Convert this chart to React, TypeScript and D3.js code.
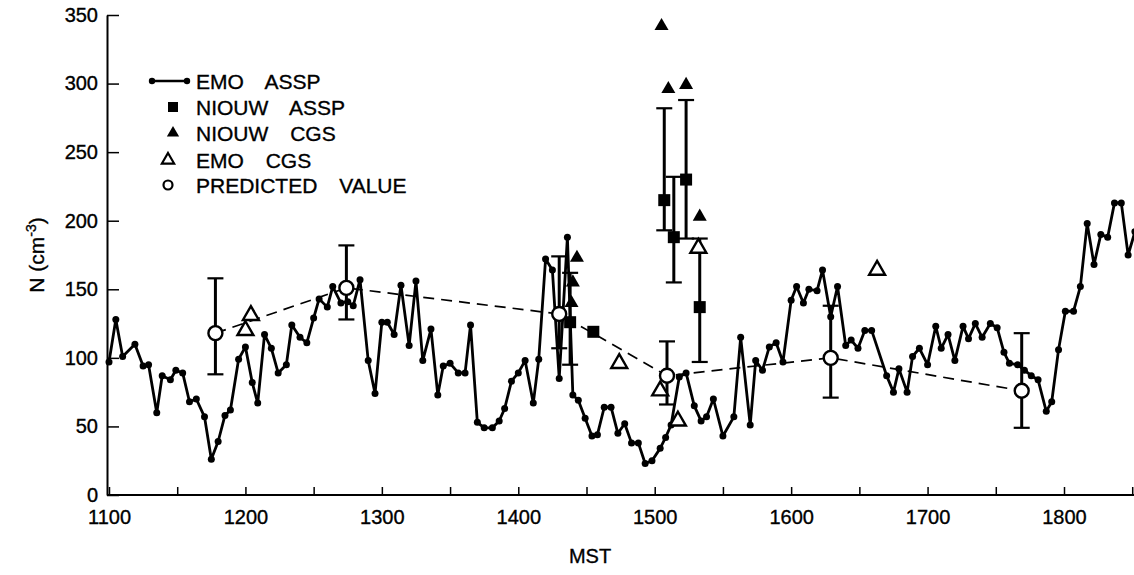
import React, { useEffect, useRef } from "react";
import * as d3 from "d3";

// EMO ASSP series (time MST, N cm^-3)
const emoX = [1100,1105,1110,1119,1125,1129,1135,1139,1145,1149,1154,1159,1164,1170,1175,1180,1185,1189,1195,1200,1205,1209,1214,1219,1224,1230,1234,1240,1245,1250,1254,1260,1264,1270,1275,1279,1284,1290,1295,1300,1304,1309,1314,1320,1325,1330,1336,1341,1345,1350,1356,1361,1365,1370,1375,1381,1386,1390,1395,1400,1405,1411,1415,1420,1425,1430,1436,1440,1444,1449,1454,1458,1463,1468,1473,1478,1483,1488,1493,1498,1504,1508,1512,1518,1523,1529,1534,1538,1543,1550,1558,1563,1570,1574,1579,1584,1589,1594,1600,1604,1609,1613,1619,1623,1629,1634,1640,1644,1649,1654,1659,1670,1675,1679,1685,1689,1694,1700,1706,1710,1715,1720,1726,1730,1735,1740,1746,1751,1756,1760,1766,1771,1776,1781,1787,1791,1796,1801,1807,1812,1817,1822,1827,1832,1837,1842,1847,1852];
const emoY = [97,128,101,110,94,95,60,87,84,91,89,68,70,57,26,39,58,62,99,108,82,67,117,107,89,95,124,115,111,129,143,137,152,140,141,138,157,98,74,126,126,117,153,109,156,98,121,73,94,96,89,89,124,53,49,49,54,63,83,89,98,67,99,172,164,85,188,73,69,56,43,44,64,64,45,52,38,38,23,25,34,42,51,86,89,65,54,57,70,43,57,115,51,98,91,108,111,97,142,152,140,150,149,164,130,152,109,113,107,120,120,87,75,92,75,101,107,95,123,107,117,98,123,114,125,115,125,122,104,96,95,91,87,84,61,68,106,134,134,152,198,168,190,188,213,213,175,192];

// NIOUW ASSP (filled squares) with error bars
const nAsspX = [1438, 1455, 1507, 1514, 1523, 1533];
const nAsspY = [126, 119, 215, 188, 230, 137];
const nAsspLo = [95, null, 193, 155, 187, 97];
const nAsspHi = [162, null, 282, 232, 288, 187];

// NIOUW CGS (filled triangles)
const nCgsX = [1439, 1440, 1443, 1505, 1510, 1523, 1533];
const nCgsY = [140, 155, 173, 342, 296, 299, 203];

// EMO CGS (open triangles)
const eCgsX = [1200, 1204, 1474, 1504, 1517, 1532, 1663];
const eCgsY = [120, 131, 96, 76, 54, 180, 164];

// Predicted values (open circles) with error bars
const predX = [1178, 1274, 1430, 1509, 1629, 1769];
const predY = [118, 151, 132, 87, 100, 76];
const predLo = [88, 128, 107, 66, 71, 49];
const predHi = [158, 182, 174, 112, 138, 118];

const xTicks = [1100,1150,1200,1250,1300,1350,1400,1450,1500,1550,1600,1650,1700,1750,1800,1850];
const yTicks = [0, 50, 100, 150, 200, 250, 300, 350];

const legendLabels = ["EMO ASSP", "NIOUW ASSP", "NIOUW CGS", "EMO CGS", "PREDICTED VALUE"];

const W = 1134, H = 575;
const FONT = "'Liberation Sans', Arial, sans-serif";

export default function App() {
  const ref = useRef<SVGSVGElement | null>(null);

  useEffect(() => {
    const svg = d3.select(ref.current);
    svg.selectAll("*").remove();

    const x = d3.scaleLinear().domain([1100, 1800]).range([109, 1064]);
    const y = d3.scaleLinear().domain([0, 350]).range([495, 15]);

    const styleText = (sel: any, size: number) =>
      sel.attr("font-size", size).attr("font-family", FONT).attr("fill", "#000")
        .attr("stroke", "#000").attr("stroke-width", 0.35);

    // Axes
    const gx = svg.append("g").attr("transform", `translate(0,${y(0)})`);
    gx.call(
      d3.axisBottom(x)
        .tickValues(xTicks)
        .tickSize(-8)
        .tickSizeOuter(0)
        .tickPadding(15)
        .tickFormat((d: any) => (d % 100 === 0 ? String(d) : ""))
    );
    gx.select(".domain").attr("d", `M${x(1100) - 2},0H${W}`).attr("stroke-width", 2);
    gx.selectAll(".tick line").attr("stroke-width", 1.5);
    styleText(gx.selectAll("text"), 20);

    const gy = svg.append("g").attr("transform", `translate(${x(1100) - 2},0)`);
    gy.call(
      d3.axisLeft(y)
        .tickValues(yTicks)
        .tickSize(-12)
        .tickSizeOuter(0)
        .tickPadding(9)
        .tickFormat((d: any) => String(d))
    );
    gy.select(".domain").attr("stroke-width", 2);
    gy.selectAll(".tick line").attr("stroke-width", 1.5);
    styleText(gy.selectAll("text"), 20);

    // Axis titles
    styleText(
      svg.append("text")
        .attr("x", 590).attr("y", 563)
        .attr("text-anchor", "middle")
        .text("MST"),
      20
    );

    const yl = svg.append("text")
      .attr("transform", `translate(44,255) rotate(-90)`)
      .attr("text-anchor", "middle");
    styleText(yl, 21);
    yl.append("tspan").text("N (cm");
    yl.append("tspan").attr("font-size", 14).attr("dy", -8).text("-3");
    yl.append("tspan").attr("dy", 8).text(")");

    const plot = svg.append("g");

    // Dashed predicted line
    const predPts = predX.map((d, i) => [x(d), y(predY[i])] as [number, number]);
    plot.append("path")
      .attr("d", d3.line()(predPts))
      .attr("fill", "none").attr("stroke", "#000")
      .attr("stroke-width", 1.7).attr("stroke-dasharray", "11,7");

    // EMO ASSP line
    const emoPts = emoX.map((d, i) => [x(d), y(emoY[i])] as [number, number]);
    plot.append("path")
      .attr("d", d3.line()(emoPts))
      .attr("fill", "none").attr("stroke", "#000")
      .attr("stroke-width", 2.8).attr("stroke-linejoin", "round");
    plot.selectAll("circle.emo").data(emoPts).enter().append("circle")
      .attr("class", "emo")
      .attr("cx", (d) => d[0]).attr("cy", (d) => d[1]).attr("r", 3.5).attr("fill", "#000");

    // Error bars helper
    const errBar = (xv: number, lo: number, hi: number) => {
      const g = plot.append("g").attr("stroke", "#000").attr("stroke-width", 3);
      g.append("line").attr("x1", x(xv)).attr("x2", x(xv)).attr("y1", y(lo)).attr("y2", y(hi));
      g.append("line").attr("x1", x(xv) - 8).attr("x2", x(xv) + 8).attr("y1", y(lo)).attr("y2", y(lo)).attr("stroke-width", 2.2);
      g.append("line").attr("x1", x(xv) - 8).attr("x2", x(xv) + 8).attr("y1", y(hi)).attr("y2", y(hi)).attr("stroke-width", 2.2);
    };
    predX.forEach((d, i) => errBar(d, predLo[i], predHi[i]));
    nAsspX.forEach((d, i) => {
      if (nAsspLo[i] != null && nAsspHi[i] != null) errBar(d, nAsspLo[i] as number, nAsspHi[i] as number);
    });

    const tri = d3.symbol().type(d3.symbolTriangle);

    // NIOUW CGS filled triangles
    nCgsX.forEach((d, i) => {
      plot.append("path")
        .attr("d", tri.size(85)())
        .attr("transform", `translate(${x(d)},${y(nCgsY[i])})`)
        .attr("fill", "#000");
    });

    // EMO CGS open triangles
    eCgsX.forEach((d, i) => {
      plot.append("path")
        .attr("d", tri.size(110)())
        .attr("transform", `translate(${x(d)},${y(eCgsY[i])})`)
        .attr("fill", "#fff").attr("stroke", "#000").attr("stroke-width", 2.4);
    });

    // NIOUW ASSP squares
    nAsspX.forEach((d, i) => {
      plot.append("rect")
        .attr("x", x(d) - 6).attr("y", y(nAsspY[i]) - 6)
        .attr("width", 12).attr("height", 12).attr("fill", "#000");
    });

    // Predicted circles
    predX.forEach((d, i) => {
      plot.append("circle")
        .attr("cx", x(d)).attr("cy", y(predY[i])).attr("r", 7)
        .attr("fill", "#fff").attr("stroke", "#000").attr("stroke-width", 2.4);
    });

    // Legend
    const lg = svg.append("g");
    const rowY = [81, 107, 133, 160, 185];
    lg.append("line").attr("x1", 152).attr("x2", 187).attr("y1", rowY[0]).attr("y2", rowY[0])
      .attr("stroke", "#000").attr("stroke-width", 2.4);
    lg.append("circle").attr("cx", 152).attr("cy", rowY[0]).attr("r", 3.2).attr("fill", "#000");
    lg.append("circle").attr("cx", 187).attr("cy", rowY[0]).attr("r", 3.2).attr("fill", "#000");
    lg.append("rect").attr("x", 168).attr("y", rowY[1] - 5).attr("width", 10).attr("height", 10).attr("fill", "#000");
    lg.append("path").attr("d", tri.size(65)()).attr("transform", `translate(173,${rowY[2]})`).attr("fill", "#000");
    lg.append("path").attr("d", tri.size(65)()).attr("transform", `translate(168,${rowY[3]})`)
      .attr("fill", "#fff").attr("stroke", "#000").attr("stroke-width", 2.2);
    lg.append("circle").attr("cx", 168).attr("cy", rowY[4]).attr("r", 4.5)
      .attr("fill", "#fff").attr("stroke", "#000").attr("stroke-width", 2.2);
    legendLabels.forEach((t, i) => {
      styleText(
        lg.append("text")
          .attr("x", 196).attr("y", rowY[i]).attr("dy", "0.36em")
          .attr("word-spacing", 16)
          .text(t),
        21
      );
    });
  }, []);

  return (
    <svg
      ref={ref}
      width={W}
      height={H}
      style={{ position: "absolute", left: 0, top: 0, background: "#fff" }}
    />
  );
}
